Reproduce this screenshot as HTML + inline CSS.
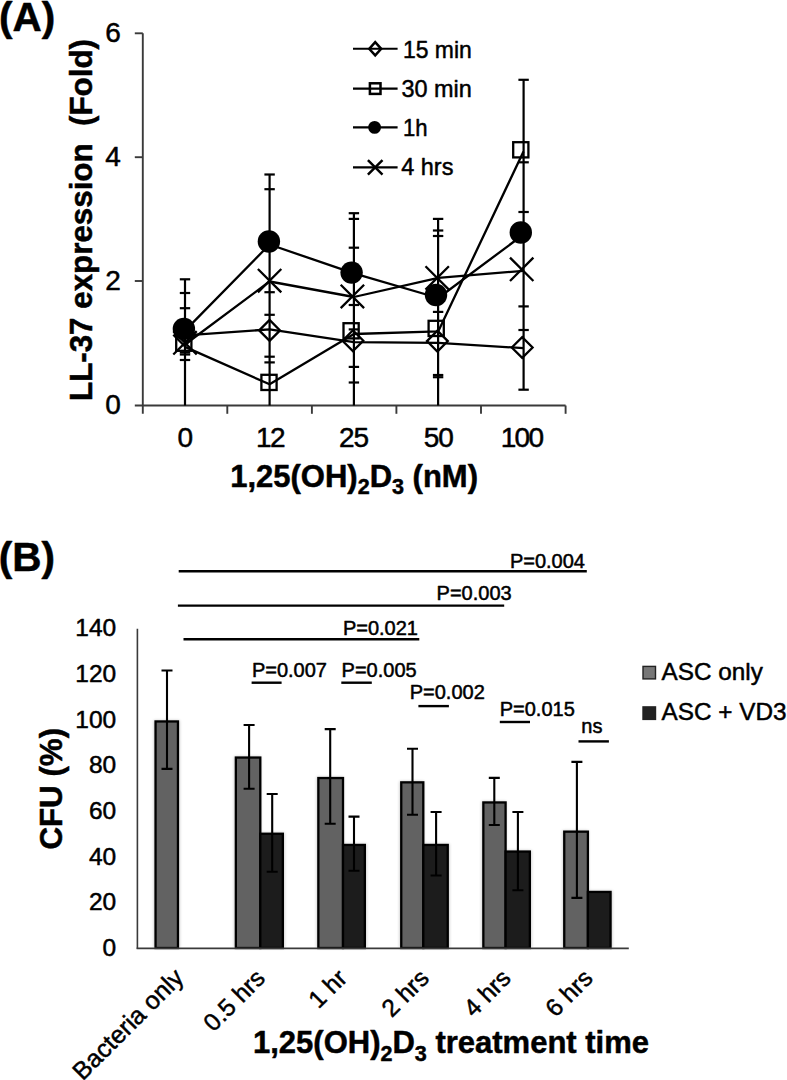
<!DOCTYPE html>
<html lang="en"><head><meta charset="utf-8"><title>Figure</title>
<style>html,body{margin:0;padding:0;background:#fff}svg{display:block}text{font-family:"Liberation Sans",sans-serif;fill:#000;stroke:#000;stroke-width:0.5px;stroke-linejoin:round}.b{font-weight:bold}</style></head><body>
<svg width="787" height="1080" viewBox="0 0 787 1080">
<rect width="787" height="1080" fill="#fff"/>
<g stroke="#3a3a3a" stroke-width="1.9" fill="none">
<path d="M142.8 33.3V413.8"/>
<path d="M134.8 405.5H565.6"/>
<path d="M134.8 33.3H142.8"/>
<path d="M134.8 157.2H142.8"/>
<path d="M134.8 281.0H142.8"/>
<path d="M227.3 405.5V413.8"/>
<path d="M311.9 405.5V413.8"/>
<path d="M396.4 405.5V413.8"/>
<path d="M481.0 405.5V413.8"/>
<path d="M565.6 405.5V413.8"/>
</g>
<g stroke="#000" stroke-width="2.2" fill="none">
<path d="M185.0 279.3V405.5"/>
<path d="M179.8 279.3H190.2"/>
<path d="M179.8 293.0H190.2"/>
<path d="M179.8 308.2H190.2"/>
<path d="M179.8 352.5H190.2"/>
<path d="M179.8 354.5H190.2"/>
<path d="M179.8 360.0H190.2"/>
<path d="M269.6 174.5V405.5"/>
<path d="M264.40 174.5H274.8"/>
<path d="M264.40 189.2H274.8"/>
<path d="M264.40 292.2H274.8"/>
<path d="M264.40 314.8H274.8"/>
<path d="M264.40 356.7H274.8"/>
<path d="M264.40 362.4H274.8"/>
<path d="M353.9 213.2V405.5"/>
<path d="M348.7 213.2H359.10"/>
<path d="M348.7 218.9H359.10"/>
<path d="M348.7 247.7H359.10"/>
<path d="M348.7 305.0H359.10"/>
<path d="M348.7 329.4H359.10"/>
<path d="M348.7 366.9H359.10"/>
<path d="M348.7 382.5H359.10"/>
<path d="M438.1 218.9V405.5"/>
<path d="M432.90 218.9H443.3"/>
<path d="M432.90 230.5H443.3"/>
<path d="M432.90 236.0H443.3"/>
<path d="M432.90 311.9H443.3"/>
<path d="M432.90 375.0H443.3"/>
<path d="M432.90 377.2H443.3"/>
<path d="M523.6 79.8V389.7"/>
<path d="M518.4 79.8H528.80"/>
<path d="M518.4 162.3H528.80"/>
<path d="M518.4 212.0H528.80"/>
<path d="M518.4 306.4H528.80"/>
<path d="M518.4 330.0H528.80"/>
<path d="M518.4 389.7H528.80"/>
</g>
<g stroke="#000" stroke-width="2.3" fill="none" stroke-linejoin="round">
<polyline points="185.0,335.4 269.6,329.4 353.9,342.2 438.3,342.8 523.5,348.2"/>
<polyline points="185.0,346.9 269.6,384.3 353.9,334.0 438.3,331.3 523.5,151.5"/>
<polyline points="185.0,330.6 269.6,244.5 353.9,273.4 438.3,298.0 523.5,234.5"/>
<polyline points="185.0,344.5 269.6,281.5 353.9,297.0 438.3,277.8 523.5,270.8"/>
</g>
<g stroke="#000" stroke-width="2.3" fill="none">
<path d="M174.1 335.5L184.5 325.1L194.9 335.5L184.5 345.9Z"/>
<path d="M259.2 330.4L269.6 320.0L280.0 330.4L269.6 340.8Z"/>
<path d="M342.5 340.7L352.9 330.3L363.3 340.7L352.9 351.1Z"/>
<path d="M427.0 341.1L437.4 330.7L447.8 341.1L437.4 351.5Z"/>
<path d="M511.8 347.5L522.2 337.1L532.6 347.5L522.2 357.9Z"/>
<rect x="176.2" y="335.6" width="15.2" height="15.2"/>
<rect x="261.4" y="374.8" width="15.2" height="15.2"/>
<rect x="343.5" y="323.2" width="15.2" height="15.2"/>
<rect x="428.6" y="320.8" width="15.2" height="15.2"/>
<rect x="513.2" y="142.2" width="15.2" height="15.2"/>
<path d="M173.3 331.1L196.7 354.5M173.3 354.5L196.7 331.1"/>
<path d="M257.9 269.0L281.3 292.4M257.9 292.4L281.3 269.0"/>
<path d="M340.7 284.7L364.1 308.1M340.7 308.1L364.1 284.7"/>
<path d="M425.5 266.2L448.9 289.6M425.5 289.6L448.9 266.2"/>
<path d="M510.0 257.6L533.4 281.0M510.0 281.0L533.4 257.6"/>
</g>
<g fill="#000">
<circle cx="183.9" cy="328.9" r="11.2"/>
<circle cx="268.9" cy="241.5" r="11.2"/>
<circle cx="351.6" cy="272.6" r="11.2"/>
<circle cx="436.0" cy="295.0" r="11.2"/>
<circle cx="520.8" cy="232.5" r="11.2"/>
</g>
<g stroke="#000" stroke-width="2.1" fill="none">
<path d="M353.0 48.8H397.6"/>
<path d="M353.0 88.6H397.6"/>
<path d="M353.0 127.4H397.6"/>
<path d="M353.0 167.4H397.6"/>
</g><g stroke="#000" stroke-width="2.5" fill="none">
<path d="M369.2 48.8L375.2 42.2L381.2 48.8L375.2 55.4Z"/>
<rect x="369.9" y="83.3" width="10.6" height="10.6"/>
<path d="M367.9 160.1L382.5 174.70M367.9 174.70L382.5 160.1"/>
</g>
<circle cx="374.60" cy="127.4" r="6.4" fill="#000"/>
<text x="403.0" y="57.8" font-size="24.5" textLength="68.8" lengthAdjust="spacingAndGlyphs">15 min</text>
<text x="401.4" y="97.2" font-size="24.5" textLength="70.4" lengthAdjust="spacingAndGlyphs">30 min</text>
<text x="403.0" y="136.3" font-size="24.5" textLength="24.6" lengthAdjust="spacingAndGlyphs">1h</text>
<text x="401.2" y="175.3" font-size="24.5" textLength="52.2" lengthAdjust="spacingAndGlyphs">4 hrs</text>
<text x="120.9" y="42.10" font-size="28" text-anchor="end">6</text>
<text x="120.9" y="166.0" font-size="28" text-anchor="end">4</text>
<text x="120.9" y="289.8" font-size="28" text-anchor="end">2</text>
<text x="120.9" y="414.3" font-size="28" text-anchor="end">0</text>
<text x="184.9" y="446.6" font-size="28" letter-spacing="-1" text-anchor="middle">0</text>
<text x="269.9" y="446.6" font-size="28" letter-spacing="-1.6" text-anchor="middle">12</text>
<text x="353.6" y="446.6" font-size="28" letter-spacing="-1" text-anchor="middle">25</text>
<text x="438.3" y="446.6" font-size="28" letter-spacing="-1" text-anchor="middle">50</text>
<text x="521.5" y="446.6" font-size="28" letter-spacing="-1.7" text-anchor="middle">100</text>
<text class="b" x="-0.9" y="31.1" font-size="40.5">(A)</text>
<text class="b" transform="translate(91.7 401.0) rotate(-90)" font-size="31.5" textLength="362" lengthAdjust="spacingAndGlyphs" xml:space="preserve">LL-37 expression  (Fold)</text>
<text class="b" x="230.2" y="486.5" font-size="31">1,25(OH)<tspan font-size="21.5" dy="7.2">2</tspan><tspan font-size="31" dy="-7.2">D</tspan><tspan font-size="21.5" dy="7.2">3</tspan><tspan font-size="31" dy="-7.2"> (nM)</tspan></text>
<defs><filter id="sh" x="-30%" y="-10%" width="160%" height="120%"><feGaussianBlur stdDeviation="1.6"/></filter></defs>
<g fill="#000" opacity="0.22" filter="url(#sh)">
<rect x="153.9" y="720.3" width="25.7" height="227.7"/>
<rect x="234.2" y="756.4" width="26.6" height="191.6"/>
<rect x="260.3" y="832.6" width="24.2" height="115.4"/>
<rect x="316.7" y="776.9" width="26.8" height="171.1"/>
<rect x="343.0" y="843.8" width="23.5" height="104.2"/>
<rect x="399.6" y="781.2" width="24.2" height="166.8"/>
<rect x="423.3" y="843.8" width="26.1" height="104.2"/>
<rect x="481.7" y="801.3" width="24.4" height="146.7"/>
<rect x="505.6" y="850.4" width="25.9" height="97.6"/>
<rect x="562.6" y="830.5" width="25.8" height="117.5"/>
<rect x="587.9" y="890.8" width="24.3" height="57.2"/>
</g>
<g stroke="#000" stroke-width="2.3">
<rect x="155.55" y="721.45" width="22.40" height="226.55" fill="#626262"/>
<rect x="235.85" y="757.55" width="24.45" height="190.45" fill="#626262"/>
<rect x="260.30" y="833.75" width="22.55" height="114.25" fill="#1c1c1c"/>
<rect x="318.35" y="778.05" width="24.65" height="169.95" fill="#626262"/>
<rect x="343.00" y="844.95" width="21.85" height="103.05" fill="#1c1c1c"/>
<rect x="401.25" y="782.35" width="22.05" height="165.65" fill="#626262"/>
<rect x="423.30" y="844.95" width="24.45" height="103.05" fill="#1c1c1c"/>
<rect x="483.35" y="802.45" width="22.25" height="145.55" fill="#626262"/>
<rect x="505.60" y="851.55" width="24.25" height="96.45" fill="#1c1c1c"/>
<rect x="564.25" y="831.65" width="23.65" height="116.35" fill="#626262"/>
<rect x="587.90" y="891.95" width="22.65" height="56.05" fill="#1c1c1c"/>
</g>
<g stroke="#3a3a3a" stroke-width="1.6" fill="none">
<path d="M137.4 628.8V948.8"/>
<path d="M136.6 948.4H628.8"/>
</g>
<g stroke="#000" stroke-width="2.1" fill="none">
<path d="M167.0 670.5V768.9M161.5 670.5H172.5M161.5 768.9H172.5"/>
<path d="M249.1 725.0V788.7M243.6 725.0H254.6M243.6 788.7H254.6"/>
<path d="M272.2 794.0V871.7M266.7 794.0H277.7M266.7 871.7H277.7"/>
<path d="M330.2 729.1V823.7M324.7 729.1H335.7M324.7 823.7H335.7"/>
<path d="M354.0 816.6V870.7M348.5 816.6H359.5M348.5 870.7H359.5"/>
<path d="M412.5 748.7V814.8M407.0 748.7H418.0M407.0 814.8H418.0"/>
<path d="M436.1 812.0V875.5M430.6 812.0H441.6M430.6 875.5H441.6"/>
<path d="M494.3 777.9V825.0M488.8 777.9H499.8M488.8 825.0H499.8"/>
<path d="M517.9 812.0V890.3M512.4 812.0H523.4M512.4 890.3H523.4"/>
<path d="M576.9 761.9V897.9M571.4 761.9H582.4M571.4 897.9H582.4"/>
</g>
<g stroke="#000" stroke-width="2.4" fill="none">
<path d="M178.7 571.2H586.8"/>
<path d="M177.9 605.6H504.2"/>
<path d="M183.5 639.3H419.3"/>
<path d="M251.6 682.7H281.6"/>
<path d="M341.3 682.7H371.8"/>
<path d="M418.4 706.1H448.9"/>
<path d="M499.8 722.0H530.0"/>
<path d="M578.5 741.4H608.9"/>
</g>
<text x="509.9" y="567.6" font-size="20">P=0.004</text>
<text x="436.6" y="600.4" font-size="20">P=0.003</text>
<text x="342.9" y="635.0" font-size="20">P=0.021</text>
<text x="251.9" y="677.2" font-size="20">P=0.007</text>
<text x="341.6" y="677.2" font-size="20">P=0.005</text>
<text x="409.7" y="699.3" font-size="20">P=0.002</text>
<text x="499.7" y="715.6" font-size="20">P=0.015</text>
<text x="581.3" y="733.4" font-size="20">ns</text>
<text x="116.2" y="955.9" font-size="24.5" text-anchor="end">0</text>
<text x="116.2" y="910.2" font-size="24.5" text-anchor="end">20</text>
<text x="116.2" y="864.5" font-size="24.5" text-anchor="end">40</text>
<text x="116.2" y="818.9" font-size="24.5" text-anchor="end">60</text>
<text x="116.2" y="773.2" font-size="24.5" text-anchor="end">80</text>
<text x="116.2" y="727.5" font-size="24.5" text-anchor="end">100</text>
<text x="116.2" y="681.8" font-size="24.5" text-anchor="end">120</text>
<text x="116.2" y="636.1" font-size="24.5" text-anchor="end">140</text>
<text transform="translate(185.0 979.2) rotate(-45)" font-size="25" text-anchor="end">Bacteria only</text>
<text transform="translate(266.5 979.7) rotate(-45)" font-size="24.5" text-anchor="end">0.5 hrs</text>
<text transform="translate(348.4 979.7) rotate(-45)" font-size="24.5" text-anchor="end">1 hr</text>
<text transform="translate(430.3 979.7) rotate(-45)" font-size="24.5" text-anchor="end">2 hrs</text>
<text transform="translate(512.2 979.7) rotate(-45)" font-size="24.5" text-anchor="end">4 hrs</text>
<text transform="translate(594.1 979.7) rotate(-45)" font-size="24.5" text-anchor="end">6 hrs</text>
<g stroke="#222" stroke-width="1.4">
<rect x="643.0" y="666.4" width="12.5" height="12.5" fill="#777"/>
<rect x="643.0" y="706.9" width="12.5" height="12.5" fill="#222"/>
</g>
<text x="661.6" y="679.5" font-size="24.3">ASC only</text>
<text x="661.6" y="719.9" font-size="24.3">ASC + VD3</text>
<text class="b" x="-1.2" y="571.0" font-size="40.5">(B)</text>
<text class="b" transform="translate(61.8 849.6) rotate(-90)" font-size="31.3">CFU (%)</text>
<text class="b" x="253.0" y="1053.3" font-size="31">1,25(OH)<tspan font-size="21.5" dy="7.2">2</tspan><tspan font-size="31" dy="-7.2">D</tspan><tspan font-size="21.5" dy="7.2">3</tspan><tspan font-size="31" dy="-7.2"> treatment time</tspan></text>
</svg></body></html>
